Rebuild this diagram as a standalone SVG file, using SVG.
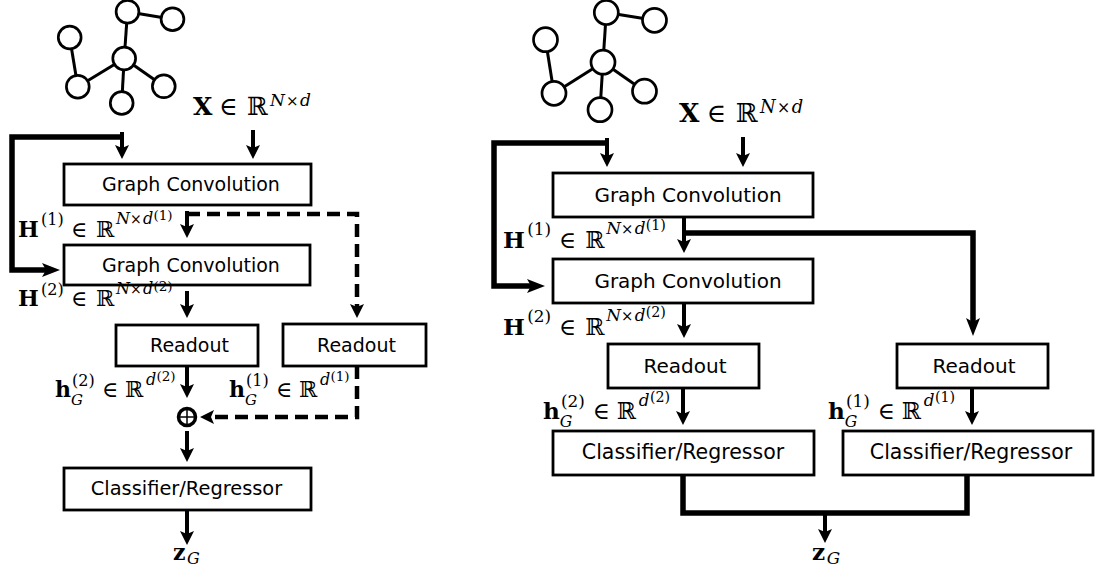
<svg xmlns="http://www.w3.org/2000/svg" width="1098" height="571" viewBox="0 0 1098 571">
<defs>
<style>
.box{fill:#fff;stroke:#000;stroke-width:2.8}
.lbl{font-family:"DejaVu Sans",Verdana,sans-serif;text-anchor:middle;fill:#000}
.m{font-family:"DejaVu Serif","Liberation Serif",serif;fill:#000}
.b{font-weight:bold}
.i{font-style:italic}
.gn{fill:#fff;stroke:#000;stroke-width:2.7}
.ge{stroke:#000;stroke-width:3}
.arr{fill:none;stroke:#000;stroke-width:4;marker-end:url(#ah)}
.thk{fill:none;stroke:#000;stroke-width:5.5}
.dash{stroke-dasharray:13 7;stroke-width:4.5}
</style>
<marker id="ah" markerUnits="userSpaceOnUse" markerWidth="15" markerHeight="15" viewBox="0 0 15 15" refX="4" refY="7.5" orient="auto"><path d="M0,0.5 L14,7.5 L0,14.5 L3,7.5 Z" fill="#000"/></marker>
<marker id="ahL" markerUnits="userSpaceOnUse" markerWidth="19" markerHeight="16" viewBox="0 0 19 16" refX="5" refY="8" orient="auto"><path d="M0,1 L18,8 L0,15 L4,8 Z" fill="#000"/></marker>
</defs>
<rect width="1098" height="571" fill="#fff"/>

<g id="connectors">
  <!-- left panel -->
  <path class="thk" d="M124,137 H12 V270 H47" marker-end="url(#ahL)"/>
  <path class="arr" d="M122,132 V149"/>
  <path class="arr" d="M253,130 V149"/>
  <path class="arr" d="M187,211 V228"/>
  <path class="arr dash" d="M187,214 H357 V308"/>
  <path class="arr" d="M187,291 V308"/>
  <path class="arr" d="M187,366 V388"/>
  <path class="arr dash" d="M357,366 V417 H210"/>
  <path class="arr" d="M187,431 V452"/>
  <path class="arr" d="M187,510 V535"/>
  <!-- right panel -->
  <path class="thk" d="M607,143 H494 V286 H532" marker-end="url(#ahL)"/>
  <path class="arr" d="M607,138 V157"/>
  <path class="arr" d="M743,137 V157"/>
  <path class="arr" d="M684,217 V243"/>
  <path class="thk" d="M684,233 H973 V323" marker-end="url(#ahL)"/>
  <path class="arr" d="M684,303 V328"/>
  <path class="arr" d="M683,388 V415"/>
  <path class="arr" d="M972,388 V415"/>
  <path class="thk" d="M683,475 V513 H967 V475"/>
  <path class="arr" d="M825,513 V533"/>
</g>

<!-- LEFT PANEL -->
<g id="graph-left">
  <line class="ge" x1="127.5" y1="11.7" x2="172.5" y2="19.2"/>
  <line class="ge" x1="127.5" y1="11.7" x2="124.2" y2="58.5"/>
  <line class="ge" x1="69.7" y1="37.5" x2="77.8" y2="86.7"/>
  <line class="ge" x1="124.2" y1="58.5" x2="77.8" y2="86.7"/>
  <line class="ge" x1="124.2" y1="58.5" x2="121.7" y2="103"/>
  <line class="ge" x1="124.2" y1="58.5" x2="163.8" y2="86.3"/>
  <circle class="gn" cx="127.5" cy="11.7" r="11.4"/>
  <circle class="gn" cx="172.5" cy="19.2" r="11.4"/>
  <circle class="gn" cx="69.7" cy="37.5" r="11.4"/>
  <circle class="gn" cx="124.2" cy="58.5" r="11.4"/>
  <circle class="gn" cx="77.8" cy="86.7" r="11.4"/>
  <circle class="gn" cx="121.7" cy="103" r="11.4"/>
  <circle class="gn" cx="163.8" cy="86.3" r="11.4"/>
</g>
<g id="x-label-left" transform="translate(193,115)">
  <text class="m"><tspan class="b" x="0" y="0" font-size="25">X</tspan><tspan x="26" y="0" font-size="25">∈</tspan><tspan x="54" y="0" font-size="25">ℝ</tspan><tspan class="i" x="77" y="-9" font-size="17">N</tspan><tspan x="93" y="-9" font-size="15">×</tspan><tspan class="i" x="107" y="-9" font-size="17">d</tspan></text>
</g>
<g id="gc1-left">
  <rect class="box" x="64" y="164" width="247" height="41"/>
  <text class="lbl" x="191" y="190.5" font-size="19">Graph Convolution</text>
</g>
<g id="h1-label-left" transform="translate(18,237)">
  <text class="m"><tspan class="b" x="0" y="0" font-size="22">H</tspan><tspan x="23" y="-12" font-size="16">(1)</tspan><tspan x="53" y="0" font-size="22">∈</tspan><tspan x="78" y="0" font-size="22">ℝ</tspan><tspan class="i" x="98" y="-13" font-size="16">N</tspan><tspan x="112" y="-13" font-size="14">×</tspan><tspan class="i" x="125" y="-13" font-size="16">d</tspan><tspan x="135.5" y="-17" font-size="13.5">(1)</tspan></text>
</g>
<g id="gc2-left">
  <rect class="box" x="64" y="245" width="246" height="40"/>
  <text class="lbl" x="191" y="271.5" font-size="19">Graph Convolution</text>
</g>
<g id="h2-label-left" transform="translate(18,306)">
  <text class="m"><tspan class="b" x="0" y="0" font-size="22">H</tspan><tspan x="23" y="-11" font-size="16">(2)</tspan><tspan x="53" y="0" font-size="22">∈</tspan><tspan x="78" y="0" font-size="22">ℝ</tspan><tspan class="i" x="98" y="-12" font-size="16">N</tspan><tspan x="112" y="-12" font-size="14">×</tspan><tspan class="i" x="125" y="-12" font-size="16">d</tspan><tspan x="135.5" y="-15" font-size="13.5">(2)</tspan></text>
</g>
<g id="readout2-left">
  <rect class="box" x="116" y="325" width="142" height="41"/>
  <text class="lbl" x="189.5" y="352" font-size="19">Readout</text>
</g>
<g id="readout1-left">
  <rect class="box" x="283" y="324" width="143" height="42"/>
  <text class="lbl" x="356.5" y="352" font-size="19">Readout</text>
</g>
<g id="hg2-label-left" transform="translate(55,397)">
  <text class="m"><tspan class="b" x="0" y="0" font-size="22">h</tspan><tspan x="17" y="-11" font-size="16">(2)</tspan><tspan class="i" x="16" y="8" font-size="15">G</tspan><tspan x="47" y="0" font-size="22">∈</tspan><tspan x="70" y="0" font-size="22">ℝ</tspan><tspan class="i" x="91" y="-12" font-size="16">d</tspan><tspan x="101.5" y="-16" font-size="13.5">(2)</tspan></text>
</g>
<g id="hg1-label-left" transform="translate(229,397)">
  <text class="m"><tspan class="b" x="0" y="0" font-size="22">h</tspan><tspan x="17" y="-11" font-size="16">(1)</tspan><tspan class="i" x="16" y="8" font-size="15">G</tspan><tspan x="47" y="0" font-size="22">∈</tspan><tspan x="70" y="0" font-size="22">ℝ</tspan><tspan class="i" x="91" y="-12" font-size="16">d</tspan><tspan x="101.5" y="-16" font-size="13.5">(1)</tspan></text>
</g>
<g id="sum-left">
  <circle cx="187" cy="417" r="8.5" fill="#fff" stroke="#000" stroke-width="3.5"/>
  <line x1="180" y1="417" x2="194" y2="417" stroke="#000" stroke-width="1.5"/>
  <line x1="187" y1="410" x2="187" y2="424" stroke="#000" stroke-width="1.5"/>
</g>
<g id="classifier-left">
  <rect class="box" x="64" y="468" width="247" height="42"/>
  <text class="lbl" x="186.5" y="495" font-size="19.4">Classifier/Regressor</text>
</g>
<g id="z-label-left" transform="translate(173,560)">
  <text class="m"><tspan class="b" x="0" y="0" font-size="22">z</tspan><tspan class="i" x="14" y="4" font-size="16">G</tspan></text>
</g>

<!-- RIGHT PANEL -->
<g id="graph-right">
  <line class="ge" x1="606.3" y1="12.5" x2="654.5" y2="20.3"/>
  <line class="ge" x1="606.3" y1="12.5" x2="603" y2="62.2"/>
  <line class="ge" x1="545.5" y1="39.7" x2="554" y2="93.3"/>
  <line class="ge" x1="603" y1="62.2" x2="554" y2="93.3"/>
  <line class="ge" x1="603" y1="62.2" x2="600" y2="109.7"/>
  <line class="ge" x1="603" y1="62.2" x2="644.5" y2="91.2"/>
  <circle class="gn" cx="606.3" cy="12.5" r="12"/>
  <circle class="gn" cx="654.5" cy="20.3" r="12"/>
  <circle class="gn" cx="545.5" cy="39.7" r="12"/>
  <circle class="gn" cx="603" cy="62.2" r="12"/>
  <circle class="gn" cx="554" cy="93.3" r="12"/>
  <circle class="gn" cx="600" cy="109.7" r="12"/>
  <circle class="gn" cx="644.5" cy="91.2" r="12"/>
</g>
<g id="x-label-right" transform="translate(679,122) scale(1.053)">
  <text class="m"><tspan class="b" x="0" y="0" font-size="25">X</tspan><tspan x="26" y="0" font-size="25">∈</tspan><tspan x="54" y="0" font-size="25">ℝ</tspan><tspan class="i" x="77" y="-9" font-size="17">N</tspan><tspan x="93" y="-9" font-size="15">×</tspan><tspan class="i" x="107" y="-9" font-size="17">d</tspan></text>
</g>
<g id="gc1-right">
  <rect class="box" x="553" y="173" width="260" height="44"/>
  <text class="lbl" x="688" y="201.5" font-size="20">Graph Convolution</text>
</g>
<g id="h1-label-right" transform="translate(503,248) scale(1.053)">
  <text class="m"><tspan class="b" x="0" y="0" font-size="22">H</tspan><tspan x="23" y="-12" font-size="16">(1)</tspan><tspan x="53" y="0" font-size="22">∈</tspan><tspan x="78" y="0" font-size="22">ℝ</tspan><tspan class="i" x="98" y="-13" font-size="16">N</tspan><tspan x="112" y="-13" font-size="14">×</tspan><tspan class="i" x="125" y="-13" font-size="16">d</tspan><tspan x="135.5" y="-17" font-size="13.5">(1)</tspan></text>
</g>
<g id="gc2-right">
  <rect class="box" x="553" y="259" width="260" height="44"/>
  <text class="lbl" x="688" y="287.5" font-size="20">Graph Convolution</text>
</g>
<g id="h2-label-right" transform="translate(503,335) scale(1.053)">
  <text class="m"><tspan class="b" x="0" y="0" font-size="22">H</tspan><tspan x="23" y="-12" font-size="16">(2)</tspan><tspan x="53" y="0" font-size="22">∈</tspan><tspan x="78" y="0" font-size="22">ℝ</tspan><tspan class="i" x="98" y="-13" font-size="16">N</tspan><tspan x="112" y="-13" font-size="14">×</tspan><tspan class="i" x="125" y="-13" font-size="16">d</tspan><tspan x="135.5" y="-17" font-size="13.5">(2)</tspan></text>
</g>
<g id="readout2-right">
  <rect class="box" x="608" y="344" width="151" height="44"/>
  <text class="lbl" x="685" y="372.5" font-size="20">Readout</text>
</g>
<g id="readout1-right">
  <rect class="box" x="897" y="344" width="151" height="44"/>
  <text class="lbl" x="974" y="372.5" font-size="20">Readout</text>
</g>
<g id="hg2-label-right" transform="translate(543,419) scale(1.053)">
  <text class="m"><tspan class="b" x="0" y="0" font-size="22">h</tspan><tspan x="17" y="-11" font-size="16">(2)</tspan><tspan class="i" x="16" y="8" font-size="15">G</tspan><tspan x="47" y="0" font-size="22">∈</tspan><tspan x="70" y="0" font-size="22">ℝ</tspan><tspan class="i" x="91" y="-12" font-size="16">d</tspan><tspan x="101.5" y="-16" font-size="13.5">(2)</tspan></text>
</g>
<g id="hg1-label-right" transform="translate(828,419) scale(1.053)">
  <text class="m"><tspan class="b" x="0" y="0" font-size="22">h</tspan><tspan x="17" y="-11" font-size="16">(1)</tspan><tspan class="i" x="16" y="8" font-size="15">G</tspan><tspan x="47" y="0" font-size="22">∈</tspan><tspan x="70" y="0" font-size="22">ℝ</tspan><tspan class="i" x="91" y="-12" font-size="16">d</tspan><tspan x="101.5" y="-16" font-size="13.5">(1)</tspan></text>
</g>
<g id="classifier2-right">
  <rect class="box" x="553" y="431" width="261" height="44"/>
  <text class="lbl" x="683" y="458.5" font-size="20.5">Classifier/Regressor</text>
</g>
<g id="classifier1-right">
  <rect class="box" x="843" y="431" width="250" height="44"/>
  <text class="lbl" x="971" y="458.5" font-size="20.5">Classifier/Regressor</text>
</g>
<g id="z-label-right" transform="translate(812,560) scale(1.053)">
  <text class="m"><tspan class="b" x="0" y="0" font-size="22">z</tspan><tspan class="i" x="14" y="4" font-size="16">G</tspan></text>
</g>
</svg>
